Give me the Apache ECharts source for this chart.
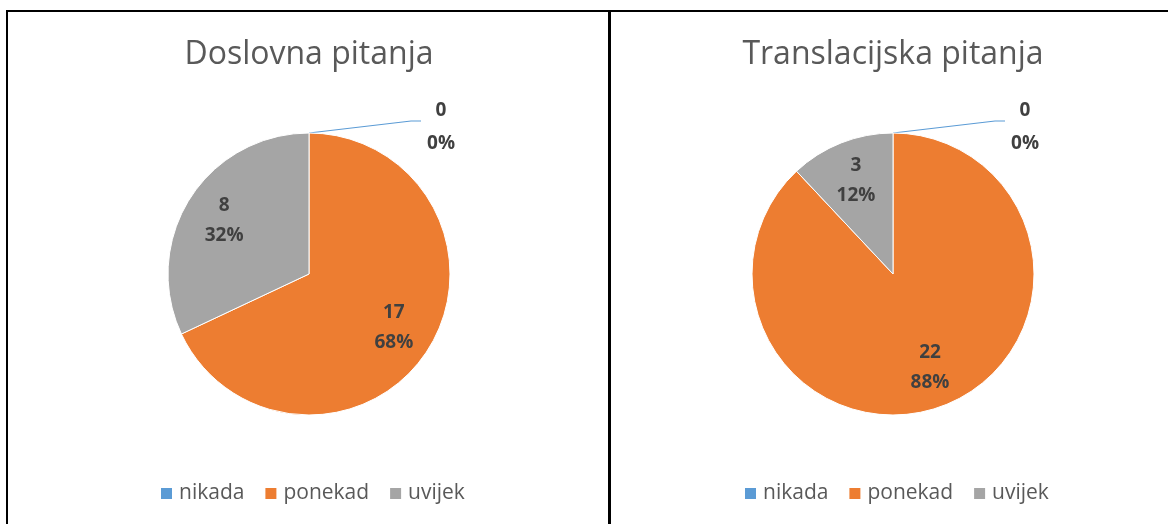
<!DOCTYPE html>
<html>
<head>
<meta charset="utf-8">
<script src="https://cdn.jsdelivr.net/npm/echarts@6/dist/echarts.min.js"></script>
<style>
  body { margin: 0; background: #fff; }
  #chart { position: absolute; left: 0; top: 0; width: 1168px; height: 524px; }
  .frame { position: absolute; background: #000; }
  .top { left: 6px; top: 10px; width: 1162px; height: 2px; }
  .left { left: 6px; top: 10px; width: 2px; height: 514px; }
  .mid { left: 608px; top: 10px; width: 3px; height: 514px; }
</style>
</head>
<body>
<div id="chart"></div>
<div class="frame top"></div>
<div class="frame left"></div>
<div class="frame mid"></div>
<script>
// podaci
const categories = ["nikada", "ponekad", "uvijek"];
const doslovna = [0, 17, 8];
const translacijska = [0, 22, 3];
const titles = ["Doslovna pitanja", "Translacijska pitanja"];

const colors = ["#5B9BD5", "#ED7D31", "#A5A5A5"];
const centersX = [309, 893];
const font = "'Open Sans', sans-serif";

// vidljiva pita, samo nula dobiva vanjsku oznaku
function pieSeries(values, cx) {
  return {
    type: "pie",
    center: [cx, 274],
    radius: 141,
    startAngle: 89.99, // malo ispod 90 da oznaka nule ide udesno
    clockwise: true,
    animation: false,
    itemStyle: { borderColor: "#fff", borderWidth: 1 },
    emphasis: { scale: false },
    label: { show: false },
    labelLine: { show: false },
    // oznaka nule malo gore, linija koso kao u excelu
    labelLayout: function (p) {
      if (values[p.dataIndex] !== 0 || !p.labelLinePoints) return {};
      const pts = p.labelLinePoints;
      const end = pts[pts.length - 1];
      return {
        dy: -6,
        labelLinePoints: [pts[0], [end[0] - 10, end[1] - 12], [end[0], end[1] - 12]]
      };
    },
    data: values.map(function (v, i) {
      const item = { name: categories[i], value: v };
      if (v === 0) {
        item.label = {
          show: true,
          position: "outside",
          formatter: "{a|{c}}\n{a|{d}%}",
          rich: {
            a: {
              width: 30, align: "center", fontFamily: font,
              fontWeight: "bold", fontSize: 19, color: "#404040", lineHeight: 33
            }
          }
        };
        item.labelLine = {
          show: true, length: 0, length2: 112,
          lineStyle: { color: "#5B9BD5", width: 1.2 }
        };
      }
      return item;
    })
  };
}

// prozirna pita samo za unutarnje oznake
function labelSeries(values, cx) {
  return {
    type: "pie",
    center: [cx, 274],
    radius: [54, 141],
    startAngle: 90,
    clockwise: true,
    silent: true,
    animation: false,
    itemStyle: { color: "transparent" },
    labelLine: { show: false },
    label: {
      show: true,
      position: "inside",
      formatter: "{c}\n{d}%",
      fontFamily: font,
      fontWeight: "bold",
      fontSize: 19,
      color: "#404040",
      lineHeight: 30
    },
    data: values.map(function (v, i) {
      const item = { name: categories[i], value: v };
      if (v === 0) item.label = { show: false };
      return item;
    })
  };
}

function legend(left) {
  return {
    left: left,
    top: 478,
    icon: "rect",
    itemWidth: 11,
    itemHeight: 11,
    itemGap: 21,
    itemStyle: { borderWidth: 0 },
    data: categories,
    textStyle: { fontFamily: font, fontSize: 21, color: "#595959", padding: [0, 0, 0, 2] }
  };
}

const chart = echarts.init(document.getElementById("chart"));
chart.setOption({
  color: colors,
  title: titles.map(function (t, i) {
    return {
      text: t,
      left: centersX[i] - 5,
      top: 34,
      textAlign: "center",
      textStyle: { fontFamily: font, fontSize: 32, fontWeight: "normal", color: "#595959" }
    };
  }),
  legend: [legend(156), legend(740)],
  series: [
    pieSeries(doslovna, centersX[0]),
    pieSeries(translacijska, centersX[1]),
    labelSeries(doslovna, centersX[0]),
    labelSeries(translacijska, centersX[1])
  ]
});
window.addEventListener("resize", function () {
  chart.resize();
});
</script>
</body>
</html>
